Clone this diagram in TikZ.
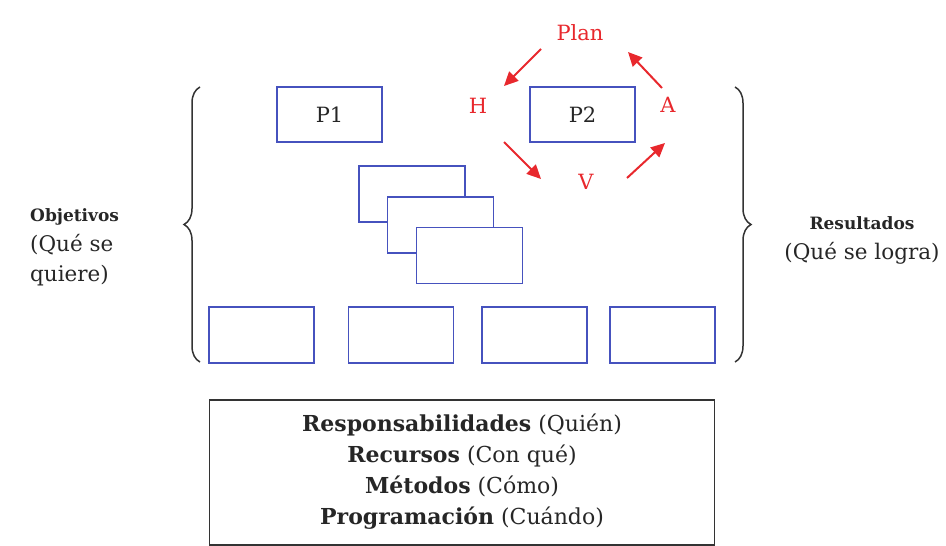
\documentclass[tikz,border=0pt]{standalone}
\usepackage{fontspec}
\setmainfont{DejaVu Serif}
\usetikzlibrary{arrows.meta,decorations.pathreplacing}
\definecolor{boxblue}{RGB}{70,82,190}
\definecolor{pdcared}{RGB}{232,40,45}
\tikzset{
  pbox/.style={draw=boxblue,line width=1.6pt,fill=white,inner sep=0pt},
  redlbl/.style={text=pdcared,font=\fontsize{21}{24}\selectfont},
  redarrow/.style={draw=pdcared,line width=2pt,-{Triangle[length=14pt,width=13pt]}},
  bracestyle/.style={draw=black!80,line width=1.5pt,decorate,decoration={brace,amplitude=16pt}},
  sidelbl/.style={font=\fontsize{21.5}{30}\selectfont,text=black!85},
}
\begin{document}
\begin{tikzpicture}[x=1pt,y=-1pt]
\useasboundingbox (0,0) rectangle (946,546);
% P1, P2
\node[pbox,minimum width=105pt,minimum height=55pt,font=\fontsize{21}{24}\selectfont,text=black!85] (p1) at (329.5,114.5) {P1};
\node[pbox,minimum width=105pt,minimum height=55pt,font=\fontsize{21}{24}\selectfont,text=black!85] (p2) at (582.5,114.5) {P2};
% stacked
\node[pbox,minimum width=106pt,minimum height=56pt] (s1) at (412,194) {};
\node[pbox,minimum width=106pt,minimum height=56pt] (s2) at (440.5,225) {};
\node[pbox,minimum width=106pt,minimum height=56pt] (s3) at (469.5,255.5) {};
% bottom row
\node[pbox,minimum width=105pt,minimum height=56pt] (b1) at (261.5,335) {};
\node[pbox,minimum width=105pt,minimum height=56pt] (b2) at (401,335) {};
\node[pbox,minimum width=105pt,minimum height=56pt] (b3) at (534.5,335) {};
\node[pbox,minimum width=105pt,minimum height=56pt] (b4) at (662.5,335) {};
% PHVA cycle
\node[redlbl] (plan) at (580,33) {Plan};
\node[redlbl] (h) at (478,106) {H};
\node[redlbl] (a) at (668,105) {A};
\node[redlbl] (v) at (586,182) {V};
\coordinate (ph1) at (541,49); \coordinate (ph2) at (504,86);
\coordinate (hv1) at (504,142); \coordinate (hv2) at (541,179);
\coordinate (va1) at (627,178); \coordinate (va2) at (665,143);
\coordinate (ap1) at (662,88); \coordinate (ap2) at (628,52);
\draw[redarrow] (ph1) -- (ph2);
\draw[redarrow] (hv1) -- (hv2);
\draw[redarrow] (va1) -- (va2);
\draw[redarrow] (ap1) -- (ap2);
% braces
\coordinate (lb1) at (200,362); \coordinate (lb2) at (200,87);
\coordinate (rb1) at (735,87); \coordinate (rb2) at (735,362);
\draw[bracestyle] (lb1) -- (lb2);
\draw[bracestyle] (rb1) -- (rb2);
% side labels
\node[sidelbl,anchor=west,align=left,inner sep=0pt] (obj) at (30,247) {{\bfseries\fontsize{17}{20}\selectfont Objetivos}\\(Qué se\\quiere)};
\node[sidelbl,align=center,inner sep=0pt] (res) at (862,240) {{\bfseries\fontsize{17}{20}\selectfont Resultados}\\(Qué se logra)};
% bottom box
\node[draw=black!80,line width=1.6pt,minimum width=505pt,minimum height=145pt,inner sep=0pt] (info) at (462,472.5) {};
\node[align=center,font=\fontsize{22}{31}\selectfont,text=black!85] (infotxt) at (462,472) {{\bfseries Responsabilidades} (Quién)\\ {\bfseries Recursos} (Con qué)\\ {\bfseries Métodos} (Cómo)\\ {\bfseries Programación} (Cuándo)};
\end{tikzpicture}
\end{document}
